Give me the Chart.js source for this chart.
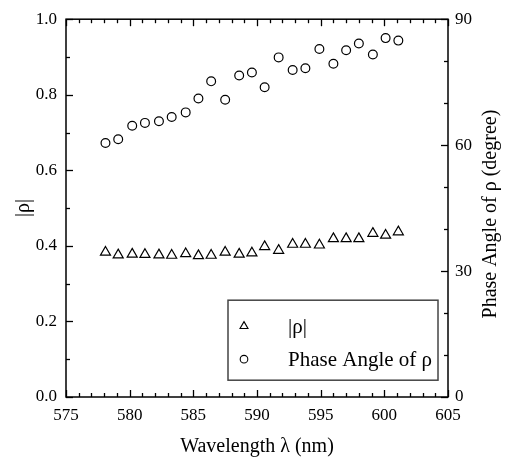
<!DOCTYPE html>
<html><head><meta charset="utf-8">
<script src="https://cdn.jsdelivr.net/npm/chart.js@4.4.1/dist/chart.umd.min.js"></script>
<style>html,body{margin:0;padding:0;background:#fff}#wrap{width:510px;height:466px}</style>
</head><body><div id="wrap"><canvas id="c" width="510" height="466"></canvas></div>
<script>
// ---- data ----
const wavelengths = [578.1, 579.1, 580.2, 581.2, 582.3, 583.3, 584.4, 585.4, 586.4, 587.5, 588.6, 589.6, 590.6, 591.7, 592.8, 593.8, 594.9, 596.0, 597.0, 598.0, 599.1, 600.1, 601.1];
const rhoMagnitude = [0.383, 0.376, 0.378, 0.377, 0.376, 0.375, 0.379, 0.374, 0.375, 0.383, 0.378, 0.381, 0.398, 0.388, 0.404, 0.404, 0.402, 0.419, 0.419, 0.419, 0.433, 0.428, 0.437];
const phaseAngle = [60.5, 61.4, 64.6, 65.3, 65.7, 66.7, 67.8, 71.1, 75.2, 70.8, 76.6, 77.3, 73.8, 80.9, 77.9, 78.3, 82.9, 79.4, 82.6, 84.2, 81.6, 85.5, 84.9];
const xTickLabels = ['575', '580', '585', '590', '595', '600', '605'];
const leftTickLabels = ['0.0', '0.2', '0.4', '0.6', '0.8', '1.0'];
const rightTickLabels = ['0', '30', '60', '90'];
const seriesNames = ['|ρ|', 'Phase Angle of ρ'];
const xTitle = 'Wavelength λ (nm)';
const leftTitle = '|ρ|';
const rightTitle = 'Phase Angle of ρ (degree)';

const FONT = "'Liberation Serif', 'Times New Roman', serif";
Chart.defaults.font.family = FONT;
Chart.defaults.color = '#000';

const toPoints = (xs, ys) => xs.map((x, i) => ({x, y: ys[i]}));

const frameTicks = {
  id: 'frameTicks',
  beforeDatasetsDraw(chart) {
    const {ctx, chartArea: a, scales: {x, y, y2}} = chart;
    ctx.save();
    ctx.strokeStyle = '#000';
    ctx.lineWidth = 1.3;
    const seg = (x1, y1, x2, y2_) => { ctx.beginPath(); ctx.moveTo(x1, y1); ctx.lineTo(x2, y2_); ctx.stroke(); };
    for (let v = x.min; v <= x.max + 1e-9; v += 1) {
      const p = Math.round(x.getPixelForValue(v)) + 0.5;
      const L = (Math.round(v) % 5 === 0) ? 7 : 4;
      seg(p, a.bottom, p, a.bottom - L);
      seg(p, a.top, p, a.top + L);
    }
    for (let k = 0; k <= 10; k++) {
      const p = Math.round(y.getPixelForValue(k / 10)) + 0.5;
      const L = (k % 2 === 0) ? 7 : 4;
      seg(a.left, p, a.left + L, p);
    }
    for (let v = 0; v <= 90; v += 10) {
      const p = Math.round(y2.getPixelForValue(v)) + 0.5;
      const L = (v % 30 === 0) ? 7 : 4;
      seg(a.right, p, a.right - L, p);
    }
    ctx.lineWidth = 1.5;
    ctx.strokeRect(a.left, a.top, a.right - a.left, a.bottom - a.top);
    ctx.restore();
  },
  afterDraw(chart) {
    const {ctx, chartArea: a} = chart;
    ctx.save();
    ctx.font = '20px ' + FONT;
    ctx.fillStyle = '#000';
    ctx.textAlign = 'center';
    ctx.textBaseline = 'middle';
    ctx.translate(a.right + 43, (a.top + a.bottom) / 2 + 6);
    ctx.rotate(-Math.PI / 2);
    ctx.fillText(rightTitle, 0, 0);
    ctx.restore();

    const bx = a.left + 162, by = a.top + 281, bw = 210, bh = 80;
    ctx.save();
    ctx.strokeStyle = '#444';
    ctx.lineWidth = 1.5;
    ctx.strokeRect(bx, by, bw, bh);
    chart.data.datasets.forEach((ds, i) => {
      const cy = by + 26 + i * 33;
      ctx.fillStyle = 'rgba(0,0,0,0)';
      ctx.strokeStyle = '#000';
      ctx.lineWidth = 1.1;
      Chart.helpers.drawPoint(ctx, {
        pointStyle: ds.pointStyle, radius: ds.pointStyle === 'triangle' ? 4.6 : 3.8,
        rotation: 0, borderWidth: 1.1
      }, bx + 16, cy);
      ctx.font = '21px ' + FONT;
      ctx.fillStyle = '#000';
      ctx.textAlign = 'left';
      ctx.textBaseline = 'middle';
      ctx.fillText(ds.label, bx + 60, cy + 1);
    });
    ctx.restore();
  }
};

new Chart(document.getElementById('c'), {
  type: 'scatter',
  data: {
    datasets: [
      {
        label: seriesNames[0], data: toPoints(wavelengths, rhoMagnitude), yAxisID: 'y',
        pointStyle: 'triangle', pointRadius: 5.8, pointBorderWidth: 1.2,
        borderColor: '#000', backgroundColor: 'rgba(0,0,0,0)', showLine: false
      },
      {
        label: seriesNames[1], data: toPoints(wavelengths, phaseAngle), yAxisID: 'y2',
        pointStyle: 'circle', pointRadius: 4.4, pointBorderWidth: 1.2,
        borderColor: '#000', backgroundColor: 'rgba(0,0,0,0)', showLine: false
      }
    ]
  },
  options: {
    responsive: false, animation: false, devicePixelRatio: 1,
    layout: {padding: {top: 15, left: 0, right: 0, bottom: 0}},
    plugins: {legend: {display: false}, tooltip: {enabled: false}},
    scales: {
      x: {
        type: 'linear', position: 'bottom', min: 575, max: 605,
        afterBuildTicks: (s) => { s.ticks = xTickLabels.map(t => ({value: Number(t)})); },
        ticks: {font: {size: 17}, padding: 8, maxRotation: 0, autoSkip: false,
          callback: (v) => xTickLabels.find(t => Number(t) === v) || ''},
        grid: {display: false, drawTicks: false}, border: {display: false},
        title: {display: true, text: xTitle, font: {size: 20}, padding: {top: 0, bottom: 7}},
        afterFit: (s) => { s.height = 69; }
      },
      y: {
        type: 'linear', position: 'left', min: 0, max: 1,
        afterBuildTicks: (s) => { s.ticks = leftTickLabels.map(t => ({value: Number(t)})); },
        ticks: {font: {size: 17}, padding: 9, autoSkip: false,
          callback: (v) => leftTickLabels.find(t => Number(t) === v) || ''},
        grid: {display: false, drawTicks: false}, border: {display: false},
        title: {display: true, text: leftTitle, font: {size: 20}, padding: {top: 12, bottom: 0}},
        afterFit: (s) => { s.width = 66; }
      },
      y2: {
        type: 'linear', position: 'right', min: 0, max: 90,
        afterBuildTicks: (s) => { s.ticks = rightTickLabels.map(t => ({value: Number(t)})); },
        ticks: {font: {size: 17}, padding: 7, autoSkip: false,
          callback: (v) => rightTickLabels.find(t => Number(t) === v) || ''},
        grid: {display: false, drawTicks: false}, border: {display: false},
        afterFit: (s) => { s.width = 62; }
      }
    }
  },
  plugins: [frameTicks]
});
</script>
</body></html>
